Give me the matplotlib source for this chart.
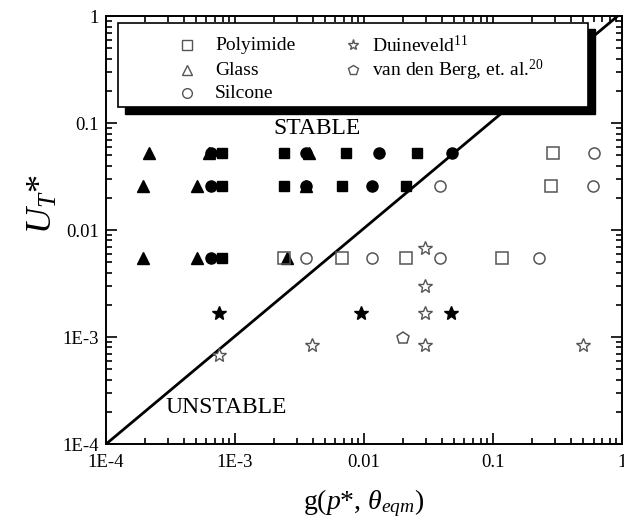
import numpy as np
import matplotlib
matplotlib.use("Agg")
import matplotlib.pyplot as plt
from matplotlib.patches import Rectangle

plt.rcParams['font.family'] = ['Liberation Serif', 'DejaVu Serif']
plt.rcParams['mathtext.fontset'] = 'custom'
plt.rcParams['mathtext.rm'] = 'Liberation Serif'
plt.rcParams['mathtext.it'] = 'Liberation Serif:italic'

# rows of U_T* values
r1, r2, r3 = 0.0525, 0.0257, 0.0055

# Glass (triangles), filled
glass_x = [2.16e-4, 6.24e-4, 3.76e-3, 1.94e-4, 5.1e-4, 3.55e-3, 1.94e-4, 5.1e-4, 2.54e-3]
glass_y = [r1, r1, r1, r2, r2, r2, r3, r3, r3]

# Silcone (circles)
sil_fill_x = [6.55e-4, 3.55e-3, 0.0131, 0.048, 6.55e-4, 3.55e-3, 0.0115, 6.55e-4]
sil_fill_y = [r1, r1, r1, r1, r2, r2, r2, r3]
sil_open_x = [0.61, 0.039, 0.59, 3.55e-3, 0.0115, 0.039, 0.2275]
sil_open_y = [r1, r2, r2, r3, r3, r3, r3]

# Polyimide (squares)
poly_fill_x = [7.9e-4, 2.41e-3, 7.26e-3, 0.0259, 7.9e-4, 2.41e-3, 6.7e-3, 0.0213, 7.9e-4]
poly_fill_y = [r1, r1, r1, r1, r2, r2, r2, r2, r3]
poly_open_x = [0.29, 0.28, 2.41e-3, 6.7e-3, 0.0213, 0.118]
poly_open_y = [r1, r2, r3, r3, r3, r3]

# Duineveld (stars)
duin_fill_x = [7.5e-4, 9.4e-3, 0.0472]
duin_fill_y = [1.67e-3, 1.67e-3, 1.67e-3]
duin_open_x = [7.5e-4, 3.95e-3, 0.0294, 0.0294, 0.0294, 0.0294, 0.5]
duin_open_y = [6.8e-4, 8.4e-4, 6.8e-3, 3.0e-3, 1.67e-3, 8.4e-4, 8.4e-4]

# van den Berg (pentagon)
berg_x = [0.0202]
berg_y = [9.8e-4]

# stability boundary
line_x = [1e-4, 0.92]
line_y = [1e-4, 1.0]

ticks = [1e-4, 1e-3, 1e-2, 1e-1, 1]
tick_labels = ['1E-4', '1E-3', '0.01', '0.1', '1']

fig = plt.figure(figsize=(6.24, 5.23), dpi=100)
ax = fig.add_axes([0.170, 0.151, 0.827, 0.818])
ax.set_xscale('log')
ax.set_yscale('log')
ax.set_xlim(1e-4, 1)
ax.set_ylim(1e-4, 1)

ax.plot(line_x, line_y, color='black', lw=2, zorder=2)

gray = '#555555'
ms = 8
ax.plot(glass_x, glass_y, '^', color='black', ms=ms + 1, ls='none', zorder=3)
ax.plot(sil_fill_x, sil_fill_y, 'o', color='black', ms=ms, ls='none', zorder=3)
ax.plot(poly_fill_x, poly_fill_y, 's', color='black', ms=ms - 0.5, ls='none', zorder=3)
ax.plot(sil_open_x, sil_open_y, 'o', mfc='none', mec=gray, mew=1.1, ms=ms, ls='none', zorder=3)
ax.plot(poly_open_x, poly_open_y, 's', mfc='none', mec=gray, mew=1.1, ms=ms + 1, ls='none', zorder=3)
ax.plot(duin_fill_x, duin_fill_y, '*', color='black', ms=ms + 2, ls='none', zorder=3)
ax.plot(duin_open_x, duin_open_y, '*', mfc='none', mec=gray, mew=1.0, ms=ms + 2, ls='none', zorder=3)
ax.plot(berg_x, berg_y, 'p', mfc='none', mec=gray, mew=1.1, ms=ms + 1, ls='none', zorder=3)

ax.text(4.33e-3, 0.0898, 'STABLE', fontsize=17, ha='center', va='center')
ax.text(8.6e-4, 2.2e-4, 'UNSTABLE', fontsize=17, ha='center', va='center')

ax.set_xticks(ticks)
ax.set_xticklabels(tick_labels)
ax.set_yticks(ticks)
ax.set_yticklabels(tick_labels)
ax.tick_params(which='both', direction='in', top=True, right=True, labelsize=13.5, width=1.2)
ax.tick_params(which='major', length=8)
ax.tick_params(which='minor', length=4)
ax.tick_params(axis='x', which='major', pad=7)
ax.tick_params(axis='y', which='major', pad=5)
for s in ax.spines.values():
    s.set_linewidth(1.4)

ax.set_xlabel(r'g($p$*, $\theta_{eqm}$)', fontsize=20, labelpad=12)
ax.set_ylabel(r'$U_T$*', fontsize=26)
ax.yaxis.set_label_coords(-0.09, 0.56)

# legend box with solid shadow
lx0, ly0, lw, lh = 0.0233, 0.787, 0.911, 0.197
ax.add_patch(Rectangle((lx0 + 0.0125, ly0 - 0.015), lw, lh, transform=ax.transAxes,
                       facecolor='black', edgecolor='black', zorder=5, clip_on=False))
ax.add_patch(Rectangle((lx0, ly0), lw, lh, transform=ax.transAxes,
                       facecolor='white', edgecolor='black', lw=1.2, zorder=6, clip_on=False))
leg_names = ['Polyimide', 'Glass', 'Silcone', r'Duineveld$^{11}$', r'van den Berg, et. al.$^{20}$']
leg_marks = ['s', '^', 'o', '*', 'p']
leg_mx = [0.157, 0.157, 0.157, 0.479, 0.479]
leg_tx = [0.211, 0.211, 0.211, 0.516, 0.516]
leg_y = [0.932, 0.874, 0.820, 0.932, 0.874]
for name, m, mx, tx, yy in zip(leg_names, leg_marks, leg_mx, leg_tx, leg_y):
    ax.plot([mx], [yy], m, mfc='none', mec=gray, mew=1.0, ms=7 if m != '*' else 8,
            transform=ax.transAxes, zorder=7, clip_on=False)
    ax.text(tx, yy, name, transform=ax.transAxes, fontsize=14, va='center', ha='left', zorder=7)

fig.savefig('out.png', dpi=100)
